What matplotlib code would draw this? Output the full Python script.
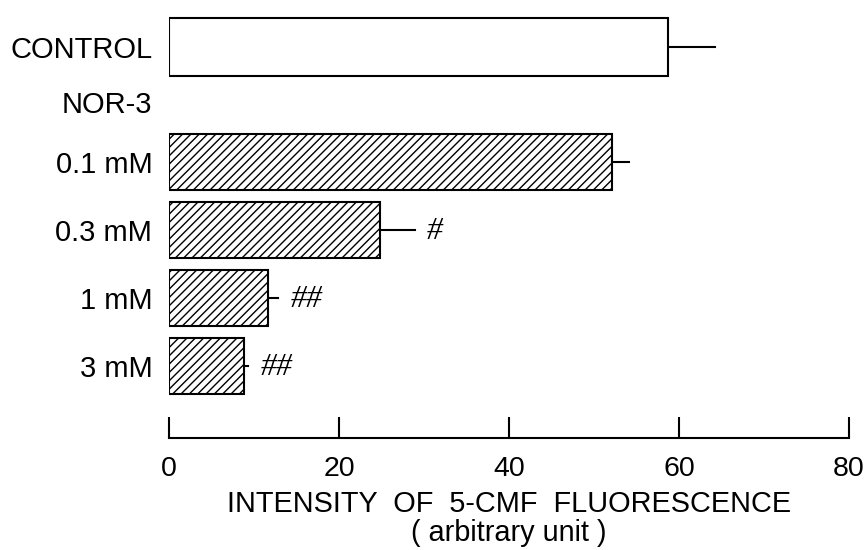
import numpy as np
import matplotlib
matplotlib.use("Agg")
import matplotlib.pyplot as plt

plt.rcParams['font.family'] = ['Liberation Sans', 'DejaVu Sans']
plt.rcParams['hatch.linewidth'] = 1.0

# data
groups = ['CONTROL', '0.1 mM', '0.3 mM', '1 mM', '3 mM']
intensity = [58.7, 52.1, 24.8, 11.6, 8.8]
sem = [5.5, 2.0, 4.1, 1.2, 0.5]
marks = ['', '', '#', '##', '##']
hatches = ['', '////', '////', '////', '////']

# vertical slots (bar rows), plus the "NOR-3" heading row
ypos = [4.69, 3.0, 2.0, 1.0, 0.0]
heights = [0.85, 0.82, 0.82, 0.82, 0.82]
heading = 'NOR-3'
heading_y = 3.88

fig = plt.figure(figsize=(8.67, 5.5), dpi=100)
ax = fig.add_axes([169 / 867, 112 / 550, 680 / 867, 428 / 550])

for y, v, e, h, hh in zip(ypos, intensity, sem, hatches, heights):
    ax.barh(y, v, height=hh, color='white', edgecolor='black',
            linewidth=1.5, hatch=h, zorder=2)
    # one-sided error bar, no cap
    ax.plot([v, v + e], [y, y], color='black', lw=1.5, zorder=1)

for y, v, e, m in zip(ypos, intensity, sem, marks):
    if m:
        ax.annotate(m, xy=(v + e, y), xytext=(9, -1), textcoords='offset points',
                    ha='left', va='center', fontsize=23, style='italic',
                    family=['Liberation Serif', 'DejaVu Serif'])

ax.set_xlim(0, 80)
ax.set_ylim(-1.06, 5.235)
ax.set_xticks([0, 20, 40, 60, 80])
ax.tick_params(axis='x', direction='in', length=15, width=1.5,
               labelsize=20.5, pad=13)

ax.set_yticks(ypos + [heading_y])
ax.set_yticklabels(groups + [heading], fontsize=21)
ax.tick_params(axis='y', length=0, pad=12)

for s in ['left', 'top', 'right']:
    ax.spines[s].set_visible(False)
ax.spines['bottom'].set_linewidth(1.5)

ax.set_xlabel('INTENSITY  OF  5-CMF  FLUORESCENCE\n( arbitrary unit )',
              fontsize=20.8, labelpad=6, linespacing=1.02)

fig.savefig('out.png', dpi=100)
